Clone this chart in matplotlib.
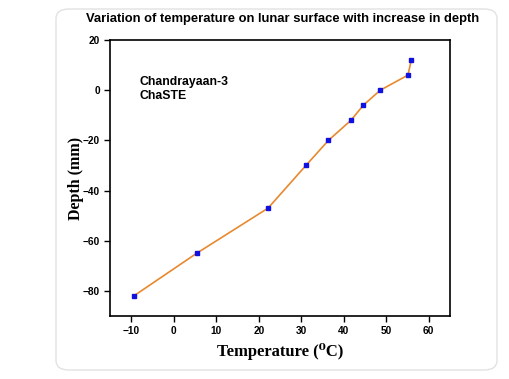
#!/usr/bin/env python3
"""Chandrayaan-3 ChaSTE temperature vs depth profile."""

import matplotlib
matplotlib.use("Agg")
import matplotlib.pyplot as plt
from matplotlib.patches import FancyBboxPatch

# values
temperature_c = [-9.4, 5.4, 22.2, 31.1, 36.4, 41.7, 44.6, 48.6, 55.1, 55.9]
depth_mm = [-82, -65, -47, -30, -20, -12, -6, 0, 6, 12]
x_ticks = [-10, 0, 10, 20, 30, 40, 50, 60]
y_ticks = [-80, -60, -40, -20, 0, 20]

SANS = ["Liberation Sans", "DejaVu Sans"]
SERIF = ["Liberation Serif", "DejaVu Serif"]


def main() -> None:
    fig = plt.figure(figsize=(5.10, 3.79), dpi=100)
    fig.patch.set_facecolor("white")

    # light rounded frame around the panel
    frame = FancyBboxPatch((56 / 510, 9 / 379), 441 / 510, 361 / 379,
                           boxstyle="round,pad=0,rounding_size=0.025",
                           transform=fig.transFigure, facecolor="none",
                           edgecolor="#e2e2e2", linewidth=1.0)
    fig.add_artist(frame)

    ax = fig.add_axes([110 / 510, 1 - 316 / 379, 340 / 510, 276 / 379])
    ax.plot(temperature_c, depth_mm, color="#e8892f", linewidth=1.2, zorder=2)
    ax.plot(temperature_c, depth_mm, linestyle="none", marker="s", markersize=2.6,
            color="#1010e0", zorder=3)

    ax.set_xlim(-15, 65)
    ax.set_ylim(-90, 20)
    ax.set_xticks(x_ticks)
    ax.set_yticks(y_ticks)
    ax.tick_params(direction="out", length=4.3, width=1.0, labelsize=7.3, pad=3)
    for lab in ax.get_xticklabels() + ax.get_yticklabels():
        lab.set_fontweight("bold")
        lab.set_family(SANS)
    for sp in ax.spines.values():
        sp.set_linewidth(1.2)

    ax.set_xlabel("Temperature (\u2070C)", fontsize=12, fontweight="bold",
                  family=SERIF, labelpad=5)
    ax.set_ylabel("Depth (mm)", fontsize=11.5, fontweight="bold", family=SERIF, labelpad=-1)

    ax.text(0.088, 0.87, "Chandrayaan-3\nChaSTE", transform=ax.transAxes,
            fontsize=8.8, fontweight="bold", family=SANS, va="top", linespacing=1.2)

    fig.text(283 / 510, 1 - 19 / 379, "Variation of temperature on lunar surface with increase in depth",
             ha="center", va="center", fontsize=9.4, fontweight="bold", family=SANS)

    fig.savefig("out.png", dpi=100, facecolor="white")
    plt.close(fig)


if __name__ == "__main__":
    main()
